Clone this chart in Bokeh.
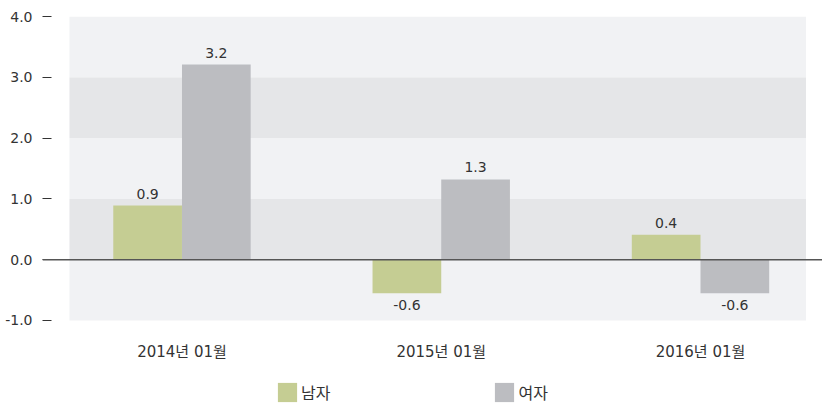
from bokeh.plotting import figure
from bokeh.models import (ColumnDataSource, Range1d, FixedTicker, Span, LabelSet,
                          Legend, LegendItem)
from bokeh.core.properties import value
from bokeh.embed import file_html
from bokeh.resources import INLINE

categories = ["2014년 01월", "2015년 01월", "2016년 01월"]
male = [0.89, -0.55, 0.41]
female = [3.21, 1.32, -0.55]
series_names = ["남자", "여자"]
y_ticks = [-1.0, 0.0, 1.0, 2.0, 3.0, 4.0]
y_tick_labels = ["-1.0", "0.0", "1.0", "2.0", "3.0", "4.0"]

GREEN = "#c5cd93"
GREY = "#bcbdc1"
BAND_LIGHT = "#f1f2f4"
BAND_DARK = "#e5e6e8"
TXT = "#333333"
FONT = "DejaVu Sans, Noto Sans CJK KR"
KFONT = "Noto Sans CJK KR"

bar_w = 0.265
band_left, band_right = -0.434, 2.407

p = figure(width=822, height=404, output_backend="svg", toolbar_location=None,
           x_range=Range1d(-0.538, 2.4706), y_range=Range1d(-2.3816, 4.0),
           min_border_top=16, min_border_left=42, min_border_right=0,
           min_border_bottom=0)
p.outline_line_color = None
p.xgrid.visible = False
p.ygrid.visible = False
p.xaxis.visible = False
p.background_fill_color = "white"
p.border_fill_color = "white"

# background bands between ticks
b_bottom = y_ticks[:-1]
b_top = y_ticks[1:]
b_col = [BAND_LIGHT if i % 2 == 0 else BAND_DARK for i in range(len(b_bottom))]
p.quad(left=band_left, right=band_right, bottom=b_bottom, top=b_top,
       fill_color=b_col, line_color=None)

xs = list(range(len(categories)))
src_m = ColumnDataSource(dict(x=[x - bar_w / 2 for x in xs], top=male))
src_f = ColumnDataSource(dict(x=[x + bar_w / 2 for x in xs], top=female))
rm = p.vbar(x="x", top="top", bottom=0, width=bar_w, source=src_m,
            fill_color=GREEN, line_color=None)
rf = p.vbar(x="x", top="top", bottom=0, width=bar_w, source=src_f,
            fill_color=GREY, line_color=None)

p.add_layout(Span(location=0, dimension="width", line_color="#555555", line_width=1.5))

# value labels
lx, ly, lt = [], [], []
for s, vals in ((-1, male), (1, female)):
    for x, v in zip(xs, vals):
        lx.append(x + s * bar_w / 2); ly.append(v); lt.append(f"{v:.1f}")
pos = ColumnDataSource(dict(x=[a for a, b in zip(lx, ly) if b >= 0],
                            y=[b for b in ly if b >= 0],
                            t=[c for c, b in zip(lt, ly) if b >= 0]))
neg = ColumnDataSource(dict(x=[a for a, b in zip(lx, ly) if b < 0],
                            y=[b for b in ly if b < 0],
                            t=[c for c, b in zip(lt, ly) if b < 0]))
p.add_layout(LabelSet(x="x", y="y", text="t", source=pos, text_align="center",
                      text_baseline="bottom", y_offset=7, text_font=value(FONT),
                      text_font_size="14px", text_color=TXT))
p.add_layout(LabelSet(x="x", y="y", text="t", source=neg, text_align="center",
                      text_baseline="top", y_offset=-7, text_font=value(FONT),
                      text_font_size="14px", text_color=TXT))

# category labels under the bottom tick
cat_src = ColumnDataSource(dict(x=xs, y=[y_ticks[0]] * len(xs), t=categories))
p.add_layout(LabelSet(x="x", y="y", text="t", source=cat_src, text_align="center",
                      text_baseline="middle", y_offset=-32, text_font=value(FONT),
                      text_font_size="15px", text_color=TXT))

# y axis
p.yaxis.ticker = FixedTicker(ticks=y_ticks)
p.yaxis.major_label_overrides = dict(zip(y_ticks, y_tick_labels))
p.yaxis.axis_line_color = None
p.yaxis.major_tick_in = 9
p.yaxis.major_tick_out = 0
p.yaxis.major_tick_line_color = TXT
p.yaxis.minor_tick_line_color = None
p.yaxis.major_label_standoff = 10
p.yaxis.major_label_text_font = FONT
p.yaxis.major_label_text_font_size = "14px"
p.yaxis.major_label_text_color = TXT

legend = Legend(items=[LegendItem(label=series_names[0], renderers=[rm]),
                       LegendItem(label=series_names[1], renderers=[rf])],
                location=(233, 0), orientation="horizontal",
                glyph_width=24, glyph_height=24, label_standoff=2, spacing=162,
                padding=0, margin=0, border_line_color=None,
                background_fill_alpha=0, label_text_font=KFONT,
                label_text_font_size="16px", label_text_color=TXT)
p.add_layout(legend, "center")

open("out.html", "w").write(file_html(p, INLINE))
